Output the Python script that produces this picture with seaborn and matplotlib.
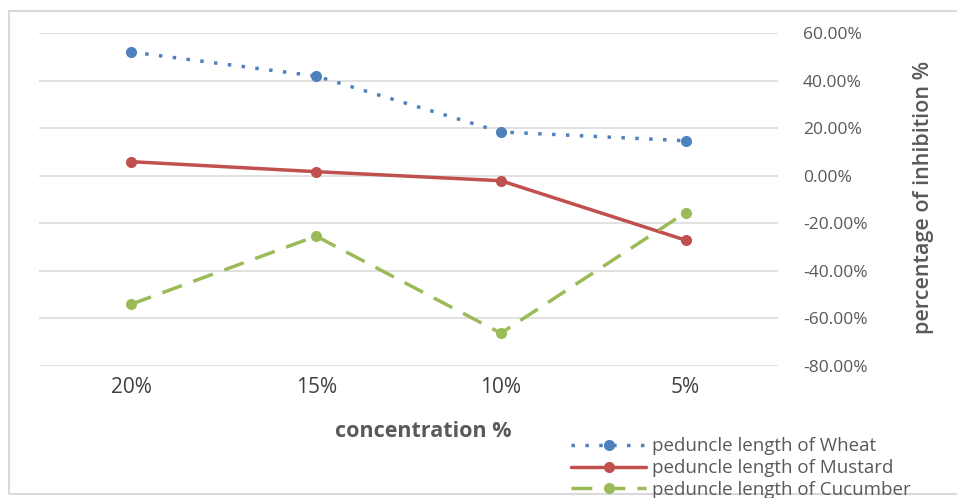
import matplotlib
matplotlib.use("Agg")
import matplotlib.pyplot as plt
from matplotlib.patches import Rectangle
import seaborn as sns

# Concentrations on the x axis and percentage of inhibition per crop
concentrations = ["20%", "15%", "10%", "5%"]
wheat = [52.0, 41.9, 18.4, 14.7]
mustard = [5.9, 1.7, -2.1, -27.1]
cucumber = [-54.0, -25.4, -66.2, -15.5]
series_labels = [
    "peduncle length of Wheat",
    "peduncle length of Mustard",
    "peduncle length of Cucumber",
]
y_ticks = [60, 40, 20, 0, -20, -40, -60, -80]

sns.set_theme(style="white")
plt.rcParams["font.family"] = ["Open Sans", "DejaVu Sans"]

W, H = 957, 498
fig = plt.figure(figsize=(W / 100, H / 100), dpi=100)

# light frame around the chart area
fig.patches.append(Rectangle((9 / W, 1 - 494 / H), (W - 9) / W + 0.01, (494 - 11) / H,
                             transform=fig.transFigure, fill=False,
                             edgecolor="#D9D9D9", linewidth=1.5))

ax = fig.add_axes([39 / W, 1 - 366 / H, (778 - 39) / W, (366 - 33) / H])

styles = [
    (wheat, "#4F81BD", (0, (1, 3))),
    (mustard, "#C0504D", "-"),
    (cucumber, "#9BBB59", (0, (6, 3.5))),
]
for (vals, color, ls), label in zip(styles, series_labels):
    sns.lineplot(x=concentrations, y=vals, ax=ax, color=color, linestyle=ls,
                 linewidth=2.5, marker="o", markersize=8, markeredgewidth=0,
                 label=label, legend=False)

ax.set_xlim(-0.5, len(concentrations) - 0.5)
ax.set_ylim(-80, 60)
ax.set_yticks(y_ticks)
ax.set_yticklabels([f"{v:.2f}%" for v in y_ticks])
ax.yaxis.tick_right()
ax.yaxis.set_label_position("right")
ax.grid(axis="y", color="#D9D9D9", linewidth=1.1)
ax.grid(axis="x", visible=False)
for s in ax.spines.values():
    s.set_visible(False)

ax.tick_params(axis="y", length=0, pad=18, labelsize=12.5, labelcolor="#595959")
ax.tick_params(axis="x", length=0, pad=8, labelsize=15, labelcolor="#404040")

ax.set_xlabel("concentration %", fontsize=15.5, fontweight="bold", color="#595959")
ax.xaxis.set_label_coords(0.52, -0.165)
ax.set_ylabel("percentage of inhibition %", fontsize=15.5, fontweight="semibold",
              color="#595959", rotation=90)
ax.yaxis.set_label_coords(1.183, 0.505)

handles, labels = ax.get_legend_handles_labels()
fig.legend(handles, labels, loc="upper left",
           bbox_to_anchor=(562 / W, 1 - 428 / H), frameon=False,
           fontsize=13.5, handlelength=4.0, handletextpad=0.3,
           labelspacing=0.2, borderpad=0, labelcolor="#595959")

fig.savefig("out.png", dpi=100)
